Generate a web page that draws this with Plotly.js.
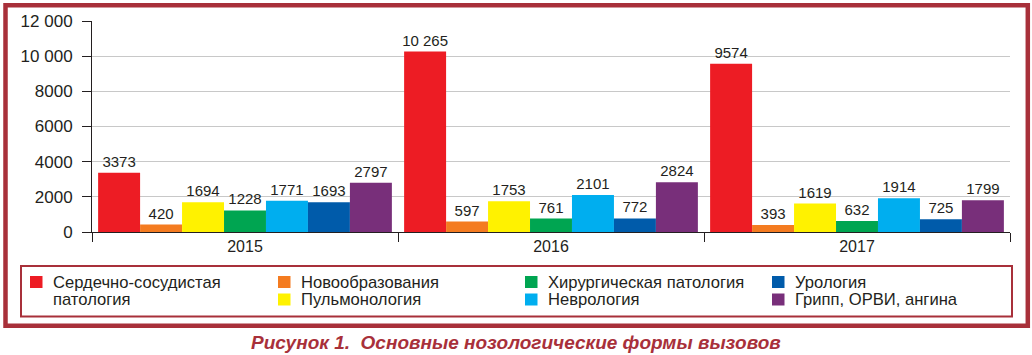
<!DOCTYPE html>
<html>
<head>
<meta charset="utf-8">
<script src="https://cdn.plot.ly/plotly-3.0.1.min.js"></script>
<style>html,body{margin:0;padding:0;background:#fff;}#chart{width:1032px;height:355px;}</style>
</head>
<body>
<div id="chart"></div>
<script>
const years = ["2015", "2016", "2017"];
const seriesNames = [
  "Сердечно-сосудистая патология",
  "Новообразования",
  "Пульмонология",
  "Хирургическая патология",
  "Неврология",
  "Урология",
  "Грипп, ОРВИ, ангина"
];
const cardio    = [3373, 10265, 9574];
const neoplasm  = [420, 597, 393];
const pulmo     = [1694, 1753, 1619];
const surgical  = [1228, 761, 632];
const neuro     = [1771, 2101, 1914];
const urology   = [1693, 772, 725];
const flu       = [2797, 2824, 1799];
const yTicks = [0, 2000, 4000, 6000, 8000, 10000, 12000];
const caption = "Рисунок 1.  Основные нозологические формы вызовов";

const seriesValues = [cardio, neoplasm, pulmo, surgical, neuro, urology, flu];
const colors = ["#ed1c24", "#f47b20", "#fff200", "#00a551", "#00aeef", "#005baa", "#782f7a"];
const dark = "#231f20";
const frame = "#a8303a";
const FONT = "Liberation Sans, Arial, Helvetica, sans-serif";

function fmt(v) {
  const s = String(v);
  if (v >= 10000) return s.slice(0, s.length - 3) + " " + s.slice(-3);
  return s;
}

// plot area in pixels
const L = 92, R = 1010, T = 21, B = 232;
const px = x => (x - L) / (R - L);
const py = y => (B - y) / (B - T);

const traces = seriesNames.map((name, i) => ({
  type: "bar",
  name: name,
  x: years,
  y: seriesValues[i],
  text: seriesValues[i].map(fmt),
  textposition: "outside",
  constraintext: "none",
  cliponaxis: false,
  textfont: {family: FONT, size: 15, color: dark},
  marker: {color: colors[i], line: {width: 0}},
  hoverinfo: "skip",
  showlegend: false
}));

const shapes = [
  {type: "rect", xref: "paper", yref: "paper", x0: px(5.5), x1: px(1027.8), y0: py(5.2), y1: py(325.8),
   line: {color: frame, width: 4.5}, fillcolor: "rgba(0,0,0,0)", layer: "above"},
  {type: "rect", xref: "paper", yref: "paper", x0: px(21), x1: px(1012), y0: py(266), y1: py(316.5),
   line: {color: frame, width: 2}, fillcolor: "rgba(0,0,0,0)", layer: "above"}
];

// legend layout: column-major, first entry spans two lines
const legendSlots = [
  {sx: 30, row: 0, lines: ["Сердечно-сосудистая", "патология"]},
  {sx: 278, row: 0}, {sx: 278, row: 1},
  {sx: 525, row: 0}, {sx: 525, row: 1},
  {sx: 772, row: 0}, {sx: 772, row: 1}
];
const rowY = [282, 299.5];
const annotations = [];
legendSlots.forEach((slot, i) => {
  const cy = rowY[slot.row];
  shapes.push({type: "rect", xref: "paper", yref: "paper",
    x0: px(slot.sx), x1: px(slot.sx + 12.5), y0: py(cy - 6), y1: py(cy + 6),
    line: {width: 0}, fillcolor: colors[i], layer: "above"});
  const lines = slot.lines || [seriesNames[i]];
  lines.forEach((t, k) => {
    annotations.push({xref: "paper", yref: "paper", x: px(slot.sx + 20.5), y: py(rowY[k + slot.row]),
      xanchor: "left", yanchor: "middle", showarrow: false, text: t,
      font: {family: FONT, size: 16.6, color: dark}});
  });
});
annotations.push({xref: "paper", yref: "paper", x: px(516), y: py(342.5), xanchor: "center", yanchor: "middle",
  showarrow: false, text: "<b><i>" + caption + "</i></b>",
  font: {family: FONT, size: 19, color: frame}});

const layout = {
  width: 1032, height: 355,
  margin: {l: L, r: 1032 - R, t: T, b: 355 - B},
  paper_bgcolor: "#fff", plot_bgcolor: "#fff",
  barmode: "group", bargap: 0.04, bargroupgap: 0,
  showlegend: false,
  font: {family: FONT, color: dark},
  xaxis: {
    type: "category", showline: true, linecolor: dark, linewidth: 1,
    ticks: "outside", tickson: "boundaries", ticklen: 9, tickcolor: dark, tickwidth: 1,
    showgrid: false, zeroline: false, tickfont: {family: FONT, size: 16, color: dark},
    fixedrange: true
  },
  yaxis: {
    range: [0, 12000], showline: true, linecolor: dark, linewidth: 1,
    ticks: "outside", ticklen: 9, tickcolor: dark, tickwidth: 1,
    tickvals: yTicks, ticktext: yTicks.map(fmt),
    showgrid: true, gridcolor: "#c8c8c8", gridwidth: 1, zeroline: false,
    tickfont: {family: FONT, size: 17, color: dark}, ticklabelstandoff: 6,
    fixedrange: true
  },
  shapes: shapes,
  annotations: annotations
};

Plotly.newPlot("chart", traces, layout, {displayModeBar: false, staticPlot: true});
</script>
</body>
</html>
